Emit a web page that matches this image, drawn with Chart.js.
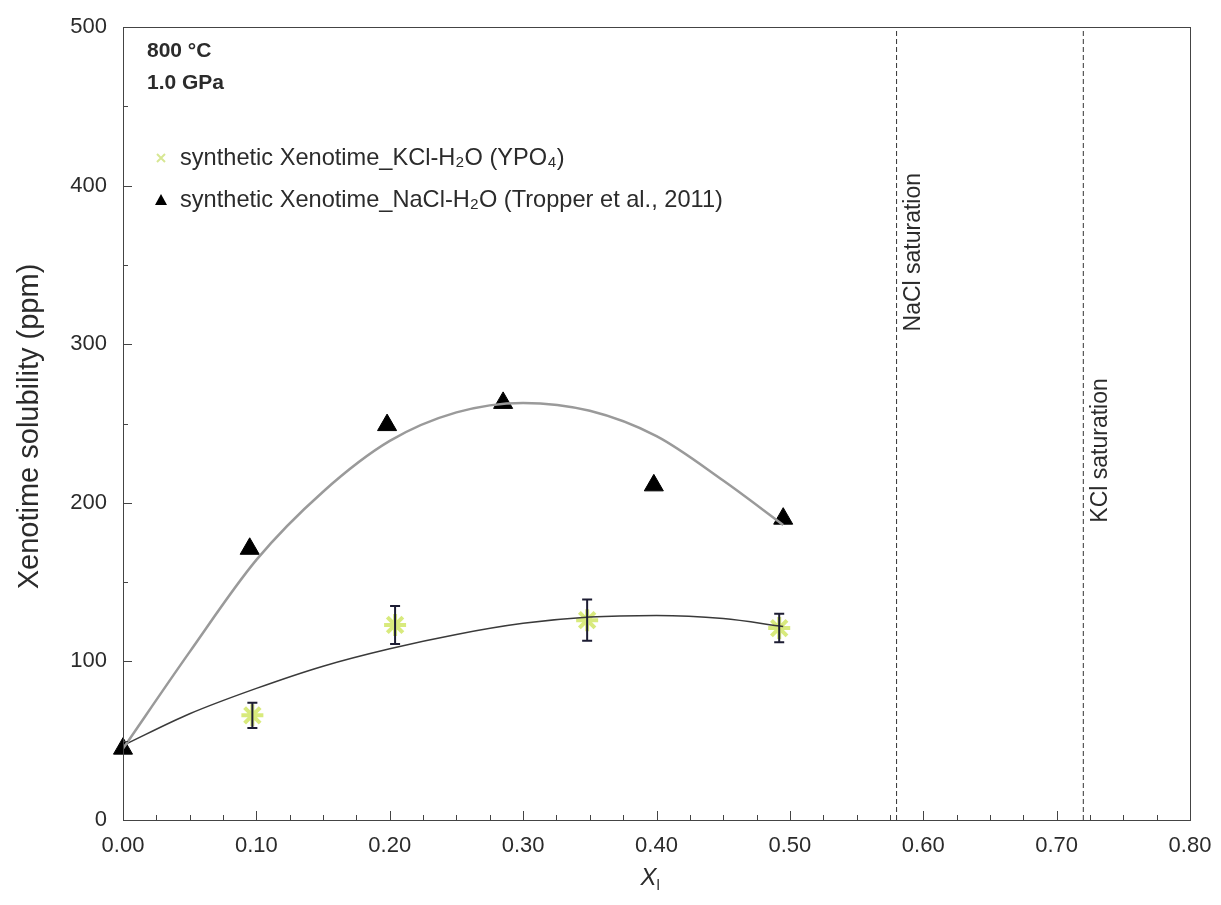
<!DOCTYPE html>
<html>
<head>
<meta charset="utf-8">
<script src="https://cdn.jsdelivr.net/npm/chart.js@4"></script>
<style>
  html, body { margin: 0; padding: 0; background: #fff; }
  #wrap { width: 1221px; height: 905px; }
</style>
</head>
<body>
<div id="wrap"><canvas id="chart" width="1221" height="905"></canvas></div>
<script>
// measured points
const kclX = [0.097, 0.204, 0.348, 0.492];
const kclY = [66, 123, 126, 121];
const kclErr = [8, 12, 13, 9];
const naclX = [0, 0.095, 0.198, 0.285, 0.398, 0.495];
const naclY = [45, 171, 249, 263, 211, 190];

// fit curves
const fitX = [0, 0.05, 0.1, 0.15, 0.2, 0.25, 0.3, 0.35, 0.4, 0.45, 0.495];
const naclFitY = [45, 106, 164, 207, 239, 257, 263, 258, 242, 214, 186];
const kclFitY = [47, 67, 83, 97, 108, 117, 124, 128, 129, 127, 122];

// saturation lines
const satX = [0.58, 0.72];
const satLabels = ["NaCl saturation", "KCl saturation"];

const legendLabels = [
  "synthetic Xenotime_KCl-H\u2082O (YPO\u2084)",
  "synthetic Xenotime_NaCl-H\u2082O (Tropper et al., 2011)"
];
const conditions = ["800 \u00b0C", "1.0 GPa"];

const FONT = "'Liberation Sans', Arial, sans-serif";
const TXT = "#2b2b2b";

function pts(xs, ys) { return xs.map((v, i) => ({ x: v, y: ys[i] })); }

const extras = {
  id: "extras",
  afterDatasetsDraw(chart) {
    const { ctx, chartArea: a, scales: { x, y } } = chart;
    ctx.save();

    // error bars
    ctx.strokeStyle = "#1d1d33";
    ctx.lineWidth = 2;
    kclX.forEach((v, i) => {
      const px = x.getPixelForValue(v);
      const t = y.getPixelForValue(kclY[i] + kclErr[i]);
      const b = y.getPixelForValue(kclY[i] - kclErr[i]);
      ctx.beginPath();
      ctx.moveTo(px, t); ctx.lineTo(px, b);
      ctx.moveTo(px - 5, t); ctx.lineTo(px + 5, t);
      ctx.moveTo(px - 5, b); ctx.lineTo(px + 5, b);
      ctx.stroke();
    });

    // frame
    ctx.strokeStyle = "#444";
    ctx.lineWidth = 1;
    ctx.strokeRect(a.left + 0.5, a.top + 0.5, a.right - a.left, a.bottom - a.top);

    // inner ticks
    ctx.beginPath();
    for (let v = 0; v <= 500; v += 50) {
      const py = Math.round(y.getPixelForValue(v)) + 0.5;
      const len = v % 100 === 0 ? 9 : 5;
      ctx.moveTo(a.left, py); ctx.lineTo(a.left + len, py);
    }
    for (let k = 0; k <= 32; k++) {
      const px = Math.round(x.getPixelForValue(k * 0.025)) + 0.5;
      const len = k % 4 === 0 ? 9 : 5;
      ctx.moveTo(px, a.bottom); ctx.lineTo(px, a.bottom - len);
    }
    ctx.stroke();

    // saturation labels
    ctx.fillStyle = TXT;
    ctx.font = "23px " + FONT;
    ctx.textAlign = "center";
    ctx.textBaseline = "middle";
    const labelY = [358, 233];
    satX.forEach((v, i) => {
      ctx.save();
      ctx.translate(x.getPixelForValue(v) + 17, y.getPixelForValue(labelY[i]));
      ctx.rotate(-Math.PI / 2);
      ctx.fillText(satLabels[i], 0, 0);
      ctx.restore();
    });

    // y title
    ctx.save();
    ctx.translate(30, (a.top + a.bottom) / 2 + 3);
    ctx.rotate(-Math.PI / 2);
    ctx.font = "29px " + FONT;
    ctx.fillText("Xenotime solubility (ppm)", 0, 0);
    ctx.restore();

    // conditions
    ctx.textAlign = "left";
    ctx.font = "bold 21px " + FONT;
    ctx.fillText(conditions[0], a.left + 24, a.top + 24);
    ctx.fillText(conditions[1], a.left + 24, a.top + 56);

    // legend
    const lx = a.left + 38;
    const rows = [a.top + 131, a.top + 173];
    ctx.font = "23.6px " + FONT;
    ctx.fillText(legendLabels[0], lx + 19, rows[0]);
    ctx.fillText(legendLabels[1], lx + 19, rows[1]);
    ctx.strokeStyle = "rgba(205,225,120,0.8)";
    ctx.lineWidth = 2;
    ctx.beginPath();
    ctx.moveTo(lx - 4, rows[0] - 4); ctx.lineTo(lx + 4, rows[0] + 4);
    ctx.moveTo(lx + 4, rows[0] - 4); ctx.lineTo(lx - 4, rows[0] + 4);
    ctx.stroke();
    ctx.fillStyle = "#000";
    ctx.beginPath();
    ctx.moveTo(lx, rows[1] - 6); ctx.lineTo(lx + 6, rows[1] + 5); ctx.lineTo(lx - 6, rows[1] + 5);
    ctx.closePath();
    ctx.fill();

    // x title: italic X with subscript l
    ctx.fillStyle = TXT;
    const cx = (a.left + a.right) / 2;
    ctx.font = "italic 24px " + FONT;
    ctx.fillText("X", cx - 16, a.bottom + 58);
    ctx.font = "15px " + FONT;
    ctx.fillText("l", cx + 0, a.bottom + 66);
    ctx.restore();
  }
};

new Chart(document.getElementById("chart"), {
  type: "scatter",
  data: {
    datasets: [
      {
        label: "NaCl fit",
        data: pts(fitX, naclFitY),
        showLine: true,
        borderColor: "#9a9a9a",
        borderWidth: 2.5,
        pointRadius: 0,
        cubicInterpolationMode: "monotone"
      },
      {
        label: "KCl fit",
        data: pts(fitX, kclFitY),
        showLine: true,
        borderColor: "#3a3a3a",
        borderWidth: 1.5,
        pointRadius: 0,
        cubicInterpolationMode: "monotone"
      },
      {
        label: "NaCl saturation",
        data: [{ x: satX[0], y: 0 }, { x: satX[0], y: 500 }],
        showLine: true,
        borderColor: "#333",
        borderWidth: 1,
        borderDash: [5, 3],
        pointRadius: 0
      },
      {
        label: "KCl saturation",
        data: [{ x: satX[1], y: 0 }, { x: satX[1], y: 500 }],
        showLine: true,
        borderColor: "#333",
        borderWidth: 1,
        borderDash: [5, 3],
        pointRadius: 0
      },
      {
        label: legendLabels[0],
        data: pts(kclX, kclY),
        pointStyle: "star",
        pointRadius: 11,
        borderColor: "rgba(200,225,70,0.7)",
        backgroundColor: "rgba(220,240,120,0.5)",
        borderWidth: 4
      },
      {
        label: legendLabels[1],
        data: pts(naclX, naclY),
        pointStyle: "triangle",
        pointRadius: 11,
        backgroundColor: "#000",
        borderColor: "#000",
        borderWidth: 1,
        clip: false
      }
    ]
  },
  options: {
    responsive: false,
    animation: false,
    layout: { padding: { top: 27, right: 31, left: 0, bottom: 0 } },
    plugins: {
      legend: { display: false },
      tooltip: { enabled: false }
    },
    scales: {
      x: {
        type: "linear",
        min: 0,
        max: 0.8,
        grid: { display: false },
        border: { display: false },
        ticks: {
          stepSize: 0.1,
          padding: 5,
          color: TXT,
          font: { family: FONT, size: 22 },
          callback: v => v.toFixed(2)
        },
        afterFit: s => { s.height = 85; }
      },
      y: {
        min: 0,
        max: 500,
        grid: { display: false },
        border: { display: false },
        ticks: {
          stepSize: 100,
          padding: 8,
          color: TXT,
          font: { family: FONT, size: 22 }
        },
        afterFit: s => { s.width = 123; }
      }
    }
  },
  plugins: [extras]
});
</script>
</body>
</html>
